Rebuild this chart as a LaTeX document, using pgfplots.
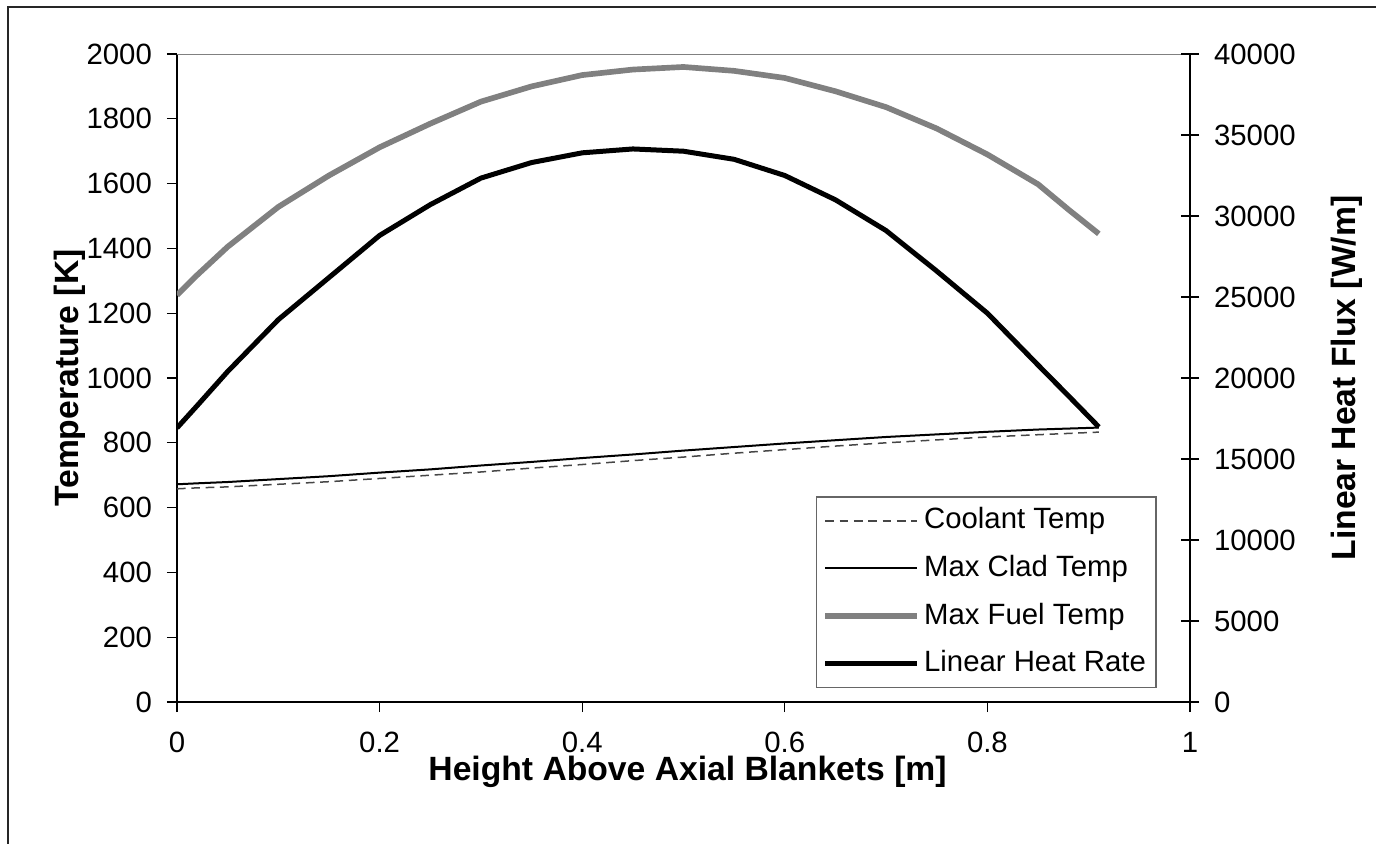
\documentclass[border=0pt]{standalone}
\usepackage{fontspec}
\setmainfont{Liberation Sans}
\usepackage{pgfplots}
\usepackage{pgfplotstable}
\pgfplotsset{compat=1.18}
\newcommand{\chartfont}{\fontsize{8.8}{10.5}\selectfont}
\newcommand{\labelfont}{\fontsize{10.1}{12}\selectfont\bfseries}
\definecolor{fuelgray}{RGB}{128,128,128}
\definecolor{coolgray}{RGB}{70,70,70}

% temperatures [K] along the fuel pin
\pgfplotstableread{
x     cool   clad   fuel
0     658    672    1256
0.02  661    675    1318
0.05  664    679    1405
0.10  672    688    1528
0.15  680    697    1625
0.20  690    708    1712
0.25  700    718    1785
0.30  710    730    1853
0.35  722    741    1900
0.40  733    753    1935
0.45  745    764    1952
0.50  756    776    1960
0.55  768    787    1948
0.60  779    798    1926
0.65  790    808    1885
0.70  800    818    1836
0.75  809    826    1770
0.80  818    834    1690
0.85  825    841    1598
0.88  829    844    1520
0.91  833    847    1445
}\temps

% linear heat rate [W/m]
\pgfplotstableread{
x     q
0     16920
0.02  18300
0.05  20400
0.10  23600
0.15  26200
0.20  28800
0.25  30700
0.30  32340
0.35  33300
0.40  33900
0.45  34140
0.50  34000
0.55  33500
0.60  32500
0.65  31000
0.70  29100
0.75  26600
0.80  24000
0.85  20800
0.88  18900
0.91  16980
}\heat

\begin{document}
\begin{tikzpicture}
\useasboundingbox (-53.1pt,-42.3pt) rectangle (359.7pt,210.6pt);
% outer chart frame (only left and top edges are inside the picture)
\draw[black!85, line width=0.5pt] (-50.7pt,-50pt) -- (-50.7pt,208.5pt) -- (370pt,208.5pt);
\pgfplotsset{
  every axis/.append style={
    scale only axis, width=303.9pt, height=194.4pt,
    xmin=0, xmax=1,
    tick label style={font=\chartfont},
    /pgf/number format/assume math mode=true,
    /pgf/number format/1000 sep={},
    scaled y ticks=false,
    axis line style={black, line width=0.6pt},
    every tick/.style={black, line width=0.4pt},
  },
}
\begin{axis}[
    axis x line*=bottom, axis y line*=left,
    ymin=0, ymax=2000,
    xtick={0,0.2,0.4,0.6,0.8,1},
    ytick={0,200,...,2000},
    tick align=outside, major tick length=3pt,
    xticklabel style={yshift=-2.5pt},
    yticklabel style={xshift=-1pt},
    xlabel={Height Above Axial Blankets [m]},
    ylabel={Temperature [K]},
    every axis x label/.style={at={(rel axis cs:0.504,-0.108)}, anchor=center, font=\labelfont},
    every axis y label/.style={at={(rel axis cs:-0.1056,0.5)}, rotate=90, anchor=center, font=\labelfont},
  ]
  \draw[fuelgray, line width=0.4pt] (rel axis cs:0,1) -- (rel axis cs:1,1);
  \addplot[coolgray, line width=0.45pt, dash pattern=on 2.6pt off 1.7pt] table[x=x, y=cool] {\temps};
  \addplot[black, line width=0.6pt] table[x=x, y=clad] {\temps};
  \addplot[fuelgray, line width=1.7pt] table[x=x, y=fuel] {\temps};
\end{axis}
\begin{axis}[
    axis x line=none, axis y line*=right,
    ymin=0, ymax=40000,
    ytick={0,5000,...,40000},
    tick align=center, major tick length=5.4pt,
    yticklabel style={xshift=1pt},
    ylabel={Linear Heat Flux [W/m]},
    every axis y label/.style={at={(rel axis cs:1.155,0.5)}, rotate=90, anchor=center, font=\labelfont},
    legend cell align=left,
    legend style={at={(rel axis cs:0.967,0.0216)}, anchor=south east,
      draw=black!60, line width=0.4pt, font=\chartfont,
      inner xsep=1.8pt, inner ysep=1.2pt, row sep=2.4pt,
      nodes={inner xsep=1.2pt}},
    legend image code/.code={\draw[#1] (0pt,0pt) -- (27.6pt,0pt);},
  ]
  \addlegendimage{coolgray, line width=0.45pt, dash pattern=on 2.6pt off 1.7pt}
  \addlegendentry{Coolant Temp}
  \addlegendimage{black, line width=0.6pt}
  \addlegendentry{Max Clad Temp}
  \addlegendimage{fuelgray, line width=1.7pt}
  \addlegendentry{Max Fuel Temp}
  \addplot[black, line width=1.5pt] table[x=x, y=q] {\heat};
  \addlegendentry{Linear Heat Rate}
\end{axis}
\end{tikzpicture}
\end{document}
